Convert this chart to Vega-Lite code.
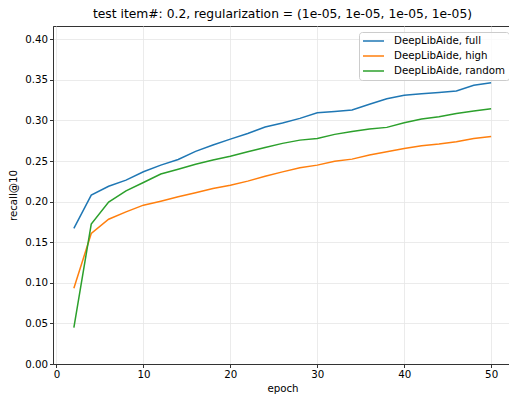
{
  "$schema": "https://vega.github.io/schema/vega-lite/v6.json",
  "width": 459,
  "height": 338,
  "autosize": {"type": "none"},
  "padding": {"left": 53, "top": 26, "right": 0, "bottom": 34},
  "background": "white",
  "config": {
    "font": "DejaVu Sans",
    "view": {"stroke": "#333333", "strokeWidth": 1}
  },
  "title": {
    "text": "test item#: 0.2, regularization = (1e-05, 1e-05, 1e-05, 1e-05)",
    "fontSize": 12.3,
    "fontWeight": "normal",
    "font": "DejaVu Sans",
    "color": "#000000",
    "offset": 6
  },
  "data": {
    "values": [
      {"epoch": 2, "series": "DeepLibAide, full", "recall": 0.167},
      {"epoch": 4, "series": "DeepLibAide, full", "recall": 0.208},
      {"epoch": 6, "series": "DeepLibAide, full", "recall": 0.219},
      {"epoch": 8, "series": "DeepLibAide, full", "recall": 0.2265},
      {"epoch": 10, "series": "DeepLibAide, full", "recall": 0.2368},
      {"epoch": 12, "series": "DeepLibAide, full", "recall": 0.245},
      {"epoch": 14, "series": "DeepLibAide, full", "recall": 0.252},
      {"epoch": 16, "series": "DeepLibAide, full", "recall": 0.262},
      {"epoch": 18, "series": "DeepLibAide, full", "recall": 0.2697},
      {"epoch": 20, "series": "DeepLibAide, full", "recall": 0.277},
      {"epoch": 22, "series": "DeepLibAide, full", "recall": 0.284},
      {"epoch": 24, "series": "DeepLibAide, full", "recall": 0.292},
      {"epoch": 26, "series": "DeepLibAide, full", "recall": 0.297},
      {"epoch": 28, "series": "DeepLibAide, full", "recall": 0.3026},
      {"epoch": 30, "series": "DeepLibAide, full", "recall": 0.3095},
      {"epoch": 32, "series": "DeepLibAide, full", "recall": 0.3112},
      {"epoch": 34, "series": "DeepLibAide, full", "recall": 0.313},
      {"epoch": 36, "series": "DeepLibAide, full", "recall": 0.32},
      {"epoch": 38, "series": "DeepLibAide, full", "recall": 0.3268},
      {"epoch": 40, "series": "DeepLibAide, full", "recall": 0.331},
      {"epoch": 42, "series": "DeepLibAide, full", "recall": 0.333},
      {"epoch": 44, "series": "DeepLibAide, full", "recall": 0.3346},
      {"epoch": 46, "series": "DeepLibAide, full", "recall": 0.3363},
      {"epoch": 48, "series": "DeepLibAide, full", "recall": 0.3433},
      {"epoch": 50, "series": "DeepLibAide, full", "recall": 0.3465},
      {"epoch": 2, "series": "DeepLibAide, high", "recall": 0.0933},
      {"epoch": 4, "series": "DeepLibAide, high", "recall": 0.1608},
      {"epoch": 6, "series": "DeepLibAide, high", "recall": 0.1784},
      {"epoch": 8, "series": "DeepLibAide, high", "recall": 0.1874},
      {"epoch": 10, "series": "DeepLibAide, high", "recall": 0.1957},
      {"epoch": 12, "series": "DeepLibAide, high", "recall": 0.2006},
      {"epoch": 14, "series": "DeepLibAide, high", "recall": 0.206},
      {"epoch": 16, "series": "DeepLibAide, high", "recall": 0.2109},
      {"epoch": 18, "series": "DeepLibAide, high", "recall": 0.2163},
      {"epoch": 20, "series": "DeepLibAide, high", "recall": 0.2203},
      {"epoch": 22, "series": "DeepLibAide, high", "recall": 0.2253},
      {"epoch": 24, "series": "DeepLibAide, high", "recall": 0.2314},
      {"epoch": 26, "series": "DeepLibAide, high", "recall": 0.2367},
      {"epoch": 28, "series": "DeepLibAide, high", "recall": 0.2417},
      {"epoch": 30, "series": "DeepLibAide, high", "recall": 0.245},
      {"epoch": 32, "series": "DeepLibAide, high", "recall": 0.2499},
      {"epoch": 34, "series": "DeepLibAide, high", "recall": 0.2524},
      {"epoch": 36, "series": "DeepLibAide, high", "recall": 0.2574},
      {"epoch": 38, "series": "DeepLibAide, high", "recall": 0.2614},
      {"epoch": 40, "series": "DeepLibAide, high", "recall": 0.2656},
      {"epoch": 42, "series": "DeepLibAide, high", "recall": 0.2688},
      {"epoch": 44, "series": "DeepLibAide, high", "recall": 0.2709},
      {"epoch": 46, "series": "DeepLibAide, high", "recall": 0.2737},
      {"epoch": 48, "series": "DeepLibAide, high", "recall": 0.2779},
      {"epoch": 50, "series": "DeepLibAide, high", "recall": 0.2804},
      {"epoch": 2, "series": "DeepLibAide, random", "recall": 0.0449},
      {"epoch": 4, "series": "DeepLibAide, random", "recall": 0.1723},
      {"epoch": 6, "series": "DeepLibAide, random", "recall": 0.1994},
      {"epoch": 8, "series": "DeepLibAide, random", "recall": 0.2133},
      {"epoch": 10, "series": "DeepLibAide, random", "recall": 0.2236},
      {"epoch": 12, "series": "DeepLibAide, random", "recall": 0.234},
      {"epoch": 14, "series": "DeepLibAide, random", "recall": 0.24},
      {"epoch": 16, "series": "DeepLibAide, random", "recall": 0.2462},
      {"epoch": 18, "series": "DeepLibAide, random", "recall": 0.2512},
      {"epoch": 20, "series": "DeepLibAide, random", "recall": 0.256},
      {"epoch": 22, "series": "DeepLibAide, random", "recall": 0.2614},
      {"epoch": 24, "series": "DeepLibAide, random", "recall": 0.2668},
      {"epoch": 26, "series": "DeepLibAide, random", "recall": 0.2718},
      {"epoch": 28, "series": "DeepLibAide, random", "recall": 0.2758},
      {"epoch": 30, "series": "DeepLibAide, random", "recall": 0.2779},
      {"epoch": 32, "series": "DeepLibAide, random", "recall": 0.2829},
      {"epoch": 34, "series": "DeepLibAide, random", "recall": 0.2865},
      {"epoch": 36, "series": "DeepLibAide, random", "recall": 0.2894},
      {"epoch": 38, "series": "DeepLibAide, random", "recall": 0.2915},
      {"epoch": 40, "series": "DeepLibAide, random", "recall": 0.2972},
      {"epoch": 42, "series": "DeepLibAide, random", "recall": 0.3017},
      {"epoch": 44, "series": "DeepLibAide, random", "recall": 0.3046},
      {"epoch": 46, "series": "DeepLibAide, random", "recall": 0.3087},
      {"epoch": 48, "series": "DeepLibAide, random", "recall": 0.3116},
      {"epoch": 50, "series": "DeepLibAide, random", "recall": 0.3144}
    ]
  },
  "mark": {"type": "line", "strokeWidth": 1.5, "clip": true},
  "encoding": {
    "x": {
      "field": "epoch",
      "type": "quantitative",
      "scale": {"domain": [-0.4, 52.4], "nice": false, "zero": false},
      "axis": {
        "title": "epoch",
        "values": [0, 10, 20, 30, 40, 50],
        "format": "d",
        "titleFont": "DejaVu Sans",
        "titleFontSize": 10.25,
        "titleFontWeight": "normal",
        "titleColor": "#000000",
        "titlePadding": 4,
        "labelFont": "DejaVu Sans",
        "labelFontSize": 10.25,
        "labelColor": "#000000",
        "labelPadding": 2,
        "tickSize": 3.5,
        "tickColor": "#333333",
        "domainColor": "#333333",
        "gridColor": "#e6e6e6",
        "gridWidth": 0.8
      }
    },
    "y": {
      "field": "recall",
      "type": "quantitative",
      "scale": {"domain": [0, 0.4164], "nice": false},
      "axis": {
        "title": "recall@10",
        "values": [0, 0.05, 0.1, 0.15, 0.2, 0.25, 0.3, 0.35, 0.4],
        "format": ".2f",
        "titleFont": "DejaVu Sans",
        "titleFontSize": 10.25,
        "titleFontWeight": "normal",
        "titleColor": "#000000",
        "titlePadding": 6,
        "labelFont": "DejaVu Sans",
        "labelFontSize": 10.25,
        "labelColor": "#000000",
        "labelPadding": 2,
        "tickSize": 3.5,
        "tickColor": "#333333",
        "domainColor": "#333333",
        "gridColor": "#e6e6e6",
        "gridWidth": 0.8
      }
    },
    "color": {
      "field": "series",
      "type": "nominal",
      "scale": {
        "domain": ["DeepLibAide, full", "DeepLibAide, high", "DeepLibAide, random"],
        "range": ["#1f77b4", "#ff7f0e", "#2ca02c"]
      },
      "legend": {
        "title": null,
        "orient": "none",
        "legendX": 306,
        "legendY": 6,
        "symbolType": "M-1,0H3.2",
        "symbolSize": 100,
        "symbolStrokeWidth": 1.5,
        "symbolFillColor": "transparent",
        "labelOffset": 20,
        "labelFont": "DejaVu Sans",
        "labelFontSize": 10.25,
        "labelColor": "#000000",
        "rowPadding": 3,
        "padding": 3,
        "fillColor": "rgba(255,255,255,0.8)",
        "strokeColor": "#cccccc",
        "cornerRadius": 3
      }
    }
  }
}
